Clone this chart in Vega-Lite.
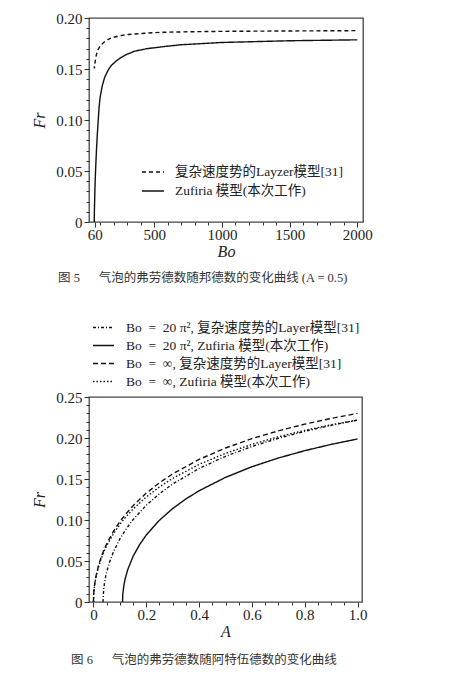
{
  "$schema": "https://vega.github.io/schema/vega-lite/v6.json",
  "background": "white",
  "padding": {"left": 31, "top": 10, "right": 5, "bottom": 5},
  "spacing": 29,
  "columns": 1,
  "resolve": {"scale": {"strokeDash": "independent"}, "legend": {"strokeDash": "independent"}},
  "config": {
    "view": {"stroke": "#444", "strokeWidth": 1.3},
    "axis": {
      "domain": false, "grid": false, "ticks": true, "offset": 0,
      "tickColor": "#333", "tickWidth": 1,
      "labelFont": "Liberation Serif", "labelFontSize": 15, "labelColor": "#222",
      "labelOverlap": false, "labelFlush": false,
      "titleFont": "Liberation Serif", "titleFontStyle": "italic", "titleFontWeight": "normal",
      "titleFontSize": 16, "titleColor": "#222"
    },
    "legend": {
      "labelFont": "'Liberation Serif', 'Noto Sans CJK SC'", "labelFontSize": 13.5, "labelColor": "#222",
      "symbolType": "stroke", "symbolStrokeWidth": 1.3, "labelLimit": 400
    }
  },
  "datasets": {
    "fig5": [
      {"Bo": 56, "Fr": 0.1525, "m": "L"}, {"Bo": 58, "Fr": 0.1505, "m": "L"}, {"Bo": 62, "Fr": 0.156, "m": "L"},
      {"Bo": 67, "Fr": 0.1605, "m": "L"}, {"Bo": 73, "Fr": 0.1642, "m": "L"}, {"Bo": 85, "Fr": 0.169, "m": "L"},
      {"Bo": 100, "Fr": 0.1725, "m": "L"}, {"Bo": 110, "Fr": 0.174, "m": "L"}, {"Bo": 140, "Fr": 0.1775, "m": "L"},
      {"Bo": 183, "Fr": 0.1805, "m": "L"}, {"Bo": 240, "Fr": 0.1825, "m": "L"}, {"Bo": 306, "Fr": 0.1838, "m": "L"},
      {"Bo": 400, "Fr": 0.1848, "m": "L"}, {"Bo": 552, "Fr": 0.186, "m": "L"}, {"Bo": 800, "Fr": 0.1866, "m": "L"},
      {"Bo": 1000, "Fr": 0.1869, "m": "L"}, {"Bo": 1500, "Fr": 0.1873, "m": "L"}, {"Bo": 2000, "Fr": 0.1876, "m": "L"},
      {"Bo": 56.5, "Fr": 0, "m": "Z"}, {"Bo": 58, "Fr": 0.012, "m": "Z"}, {"Bo": 60, "Fr": 0.022, "m": "Z"},
      {"Bo": 63, "Fr": 0.038, "m": "Z"}, {"Bo": 67, "Fr": 0.052, "m": "Z"}, {"Bo": 73, "Fr": 0.07, "m": "Z"},
      {"Bo": 80, "Fr": 0.087, "m": "Z"}, {"Bo": 92, "Fr": 0.112, "m": "Z"}, {"Bo": 100, "Fr": 0.122, "m": "Z"},
      {"Bo": 115, "Fr": 0.133, "m": "Z"}, {"Bo": 134, "Fr": 0.142, "m": "Z"}, {"Bo": 160, "Fr": 0.149, "m": "Z"},
      {"Bo": 183, "Fr": 0.1535, "m": "Z"}, {"Bo": 220, "Fr": 0.158, "m": "Z"}, {"Bo": 257, "Fr": 0.1615, "m": "Z"},
      {"Bo": 300, "Fr": 0.1645, "m": "Z"}, {"Bo": 355, "Fr": 0.1675, "m": "Z"}, {"Bo": 450, "Fr": 0.17, "m": "Z"},
      {"Bo": 552, "Fr": 0.1717, "m": "Z"}, {"Bo": 700, "Fr": 0.1738, "m": "Z"}, {"Bo": 1000, "Fr": 0.176, "m": "Z"},
      {"Bo": 1500, "Fr": 0.1777, "m": "Z"}, {"Bo": 2000, "Fr": 0.1786, "m": "Z"}
    ],
    "fig6": [
      {"A": 0.0362, "Fr": 0, "s": "a"}, {"A": 0.037, "Fr": 0.00879, "s": "a"}, {"A": 0.04, "Fr": 0.01927, "s": "a"},
      {"A": 0.045, "Fr": 0.0293, "s": "a"}, {"A": 0.05, "Fr": 0.03661, "s": "a"}, {"A": 0.06, "Fr": 0.04786, "s": "a"},
      {"A": 0.075, "Fr": 0.06069, "s": "a"}, {"A": 0.1, "Fr": 0.07694, "s": "a"}, {"A": 0.12, "Fr": 0.0874, "s": "a"},
      {"A": 0.15, "Fr": 0.10051, "s": "a"}, {"A": 0.2, "Fr": 0.11805, "s": "a"}, {"A": 0.25, "Fr": 0.13214, "s": "a"},
      {"A": 0.3, "Fr": 0.14394, "s": "a"}, {"A": 0.4, "Fr": 0.16288, "s": "a"}, {"A": 0.5, "Fr": 0.17768, "s": "a"},
      {"A": 0.6, "Fr": 0.18968, "s": "a"}, {"A": 0.7, "Fr": 0.19967, "s": "a"}, {"A": 0.8, "Fr": 0.20815, "s": "a"},
      {"A": 0.9, "Fr": 0.21545, "s": "a"}, {"A": 1.0, "Fr": 0.22182, "s": "a"},
      {"A": 0.1099, "Fr": 0, "s": "b"}, {"A": 0.111, "Fr": 0.00947, "s": "b"}, {"A": 0.115, "Fr": 0.0202, "s": "b"},
      {"A": 0.12, "Fr": 0.02833, "s": "b"}, {"A": 0.13, "Fr": 0.03977, "s": "b"}, {"A": 0.15, "Fr": 0.05566, "s": "b"},
      {"A": 0.175, "Fr": 0.07016, "s": "b"}, {"A": 0.2, "Fr": 0.08167, "s": "b"}, {"A": 0.25, "Fr": 0.09978, "s": "b"},
      {"A": 0.3, "Fr": 0.11397, "s": "b"}, {"A": 0.35, "Fr": 0.12568, "s": "b"}, {"A": 0.4, "Fr": 0.13566, "s": "b"},
      {"A": 0.5, "Fr": 0.15198, "s": "b"}, {"A": 0.6, "Fr": 0.16494, "s": "b"}, {"A": 0.7, "Fr": 0.17558, "s": "b"},
      {"A": 0.8, "Fr": 0.18453, "s": "b"}, {"A": 0.9, "Fr": 0.19218, "s": "b"}, {"A": 1.0, "Fr": 0.19881, "s": "b"},
      {"A": 0, "Fr": 0, "s": "c"}, {"A": 0.0005, "Fr": 0.00727, "s": "c"}, {"A": 0.001, "Fr": 0.01028, "s": "c"},
      {"A": 0.002, "Fr": 0.01453, "s": "c"}, {"A": 0.005, "Fr": 0.02294, "s": "c"}, {"A": 0.01, "Fr": 0.03237, "s": "c"},
      {"A": 0.02, "Fr": 0.04555, "s": "c"}, {"A": 0.03, "Fr": 0.05551, "s": "c"}, {"A": 0.04, "Fr": 0.06379, "s": "c"},
      {"A": 0.05, "Fr": 0.07098, "s": "c"}, {"A": 0.075, "Fr": 0.08591, "s": "c"}, {"A": 0.1, "Fr": 0.09807, "s": "c"},
      {"A": 0.12, "Fr": 0.10647, "s": "c"}, {"A": 0.15, "Fr": 0.11747, "s": "c"}, {"A": 0.2, "Fr": 0.13279, "s": "c"},
      {"A": 0.25, "Fr": 0.14547, "s": "c"}, {"A": 0.3, "Fr": 0.15626, "s": "c"}, {"A": 0.4, "Fr": 0.17386, "s": "c"},
      {"A": 0.5, "Fr": 0.1878, "s": "c"}, {"A": 0.6, "Fr": 0.19919, "s": "c"}, {"A": 0.7, "Fr": 0.20872, "s": "c"},
      {"A": 0.8, "Fr": 0.21685, "s": "c"}, {"A": 0.9, "Fr": 0.22387, "s": "c"}, {"A": 1.0, "Fr": 0.23, "s": "c"},
      {"A": 0, "Fr": 0, "s": "d"}, {"A": 0.0005, "Fr": 0.00702, "s": "d"}, {"A": 0.001, "Fr": 0.00992, "s": "d"},
      {"A": 0.002, "Fr": 0.01403, "s": "d"}, {"A": 0.005, "Fr": 0.02214, "s": "d"}, {"A": 0.01, "Fr": 0.03124, "s": "d"},
      {"A": 0.02, "Fr": 0.04396, "s": "d"}, {"A": 0.03, "Fr": 0.05358, "s": "d"}, {"A": 0.04, "Fr": 0.06157, "s": "d"},
      {"A": 0.05, "Fr": 0.06851, "s": "d"}, {"A": 0.075, "Fr": 0.08293, "s": "d"}, {"A": 0.1, "Fr": 0.09466, "s": "d"},
      {"A": 0.12, "Fr": 0.10277, "s": "d"}, {"A": 0.15, "Fr": 0.11339, "s": "d"}, {"A": 0.2, "Fr": 0.12817, "s": "d"},
      {"A": 0.25, "Fr": 0.14041, "s": "d"}, {"A": 0.3, "Fr": 0.15082, "s": "d"}, {"A": 0.4, "Fr": 0.16782, "s": "d"},
      {"A": 0.5, "Fr": 0.18126, "s": "d"}, {"A": 0.6, "Fr": 0.19226, "s": "d"}, {"A": 0.7, "Fr": 0.20146, "s": "d"},
      {"A": 0.8, "Fr": 0.2093, "s": "d"}, {"A": 0.9, "Fr": 0.21608, "s": "d"}, {"A": 1.0, "Fr": 0.222, "s": "d"}
    ]
  },
  "concat": [
    {
      "width": 274,
      "height": 204,
      "title": {
        "text": "图 5\u2003\u2002气泡的弗劳德数随邦德数的变化曲线 (A = 0.5)",
        "orient": "bottom", "anchor": "start", "frame": "group", "dx": -31, "offset": 13,
        "font": "'Liberation Serif', 'Noto Sans CJK SC'", "fontSize": 12.5, "fontWeight": "normal", "color": "#333"
      },
      "data": {"name": "fig5"},
      "mark": {"type": "line", "color": "#111", "strokeWidth": 1.4},
      "encoding": {
        "x": {
          "field": "Bo", "type": "quantitative",
          "scale": {"domain": [18, 2042], "nice": false, "zero": false},
          "axis": {
            "title": "Bo", "titlePadding": 1, "labelPadding": 0,
            "values": [60, 100, 200, 300, 400, 500, 600, 700, 800, 900, 1000, 1100, 1200, 1300, 1400, 1500, 1600, 1700, 1800, 1900, 2000],
            "labelExpr": "(datum.value == 60 || datum.value % 500 == 0) ? format(datum.value, 'd') : ''",
            "tickSize": {"condition": {"test": "datum.value == 60 || datum.value % 500 == 0", "value": 5}, "value": 3}
          }
        },
        "y": {
          "field": "Fr", "type": "quantitative",
          "scale": {"domain": [0, 0.2], "nice": false},
          "axis": {
            "title": "Fr", "titlePadding": 8, "labelPadding": 2,
            "values": [0, 0.01, 0.02, 0.03, 0.04, 0.05, 0.06, 0.07, 0.08, 0.09, 0.1, 0.11, 0.12, 0.13, 0.14, 0.15, 0.16, 0.17, 0.18, 0.19, 0.2],
            "labelExpr": "round(datum.value * 100) % 5 == 0 ? (datum.value == 0 ? '0' : format(datum.value, '.2f')) : ''",
            "tickSize": {"condition": {"test": "round(datum.value * 100) % 5 == 0", "value": 5}, "value": 3}
          }
        },
        "strokeDash": {
          "field": "m", "type": "nominal",
          "scale": {"domain": ["L", "Z"], "range": [[4, 3], [1, 0]]},
          "legend": {
            "title": null, "orient": "none", "legendX": 52, "legendY": 142,
            "symbolSize": 484, "labelOffset": 10, "rowPadding": -1,
            "labelExpr": "datum.label == 'L' ? '复杂速度势的Layzer模型[31]' : 'Zufiria 模型(本次工作)'"
          }
        }
      }
    },
    {
      "width": 273,
      "height": 205,
      "title": {
        "text": "图 6\u2003\u2002气泡的弗劳德数随阿特伍德数的变化曲线",
        "orient": "bottom", "anchor": "start", "frame": "group", "dx": -18, "offset": 15,
        "font": "'Liberation Serif', 'Noto Sans CJK SC'", "fontSize": 12.5, "fontWeight": "normal", "color": "#333"
      },
      "data": {"name": "fig6"},
      "mark": {"type": "line", "color": "#111", "strokeWidth": 1.4},
      "encoding": {
        "x": {
          "field": "A", "type": "quantitative",
          "scale": {"domain": [-0.017, 1.017], "nice": false, "zero": false},
          "axis": {
            "title": "A", "titlePadding": 1, "labelPadding": 0,
            "values": [0, 0.05, 0.1, 0.15, 0.2, 0.25, 0.3, 0.35, 0.4, 0.45, 0.5, 0.55, 0.6, 0.65, 0.7, 0.75, 0.8, 0.85, 0.9, 0.95, 1.0],
            "labelExpr": "round(datum.value * 100) % 20 == 0 ? (datum.value == 0 ? '0' : format(datum.value, '.1f')) : ''",
            "tickSize": {"condition": {"test": "round(datum.value * 100) % 20 == 0", "value": 5}, "value": 3}
          }
        },
        "y": {
          "field": "Fr", "type": "quantitative",
          "scale": {"domain": [0, 0.25], "nice": false},
          "axis": {
            "title": "Fr", "titlePadding": 8, "labelPadding": 2,
            "values": [0, 0.01, 0.02, 0.03, 0.04, 0.05, 0.06, 0.07, 0.08, 0.09, 0.1, 0.11, 0.12, 0.13, 0.14, 0.15, 0.16, 0.17, 0.18, 0.19, 0.2, 0.21, 0.22, 0.23, 0.24, 0.25],
            "labelExpr": "round(datum.value * 100) % 5 == 0 ? (datum.value == 0 ? '0' : format(datum.value, '.2f')) : ''",
            "tickSize": {"condition": {"test": "round(datum.value * 100) % 5 == 0", "value": 5}, "value": 3}
          }
        },
        "strokeDash": {
          "field": "s", "type": "nominal",
          "scale": {"domain": ["a", "b", "c", "d"], "range": [[3, 2, 1, 2], [1, 0], [5, 3], [1.5, 2]]},
          "legend": {
            "title": null, "orient": "none", "legendX": 3, "legendY": -81,
            "symbolSize": 441, "labelOffset": 11, "rowPadding": -1,
            "labelExpr": "datum.label == 'a' ? 'Bo\u2002=\u200220 π², 复杂速度势的Layer模型[31]' : datum.label == 'b' ? 'Bo\u2002=\u200220 π², Zufiria 模型(本次工作)' : datum.label == 'c' ? 'Bo\u2002=\u2002∞, 复杂速度势的Layer模型[31]' : 'Bo\u2002=\u2002∞, Zufiria 模型(本次工作)'"
          }
        }
      }
    }
  ]
}
